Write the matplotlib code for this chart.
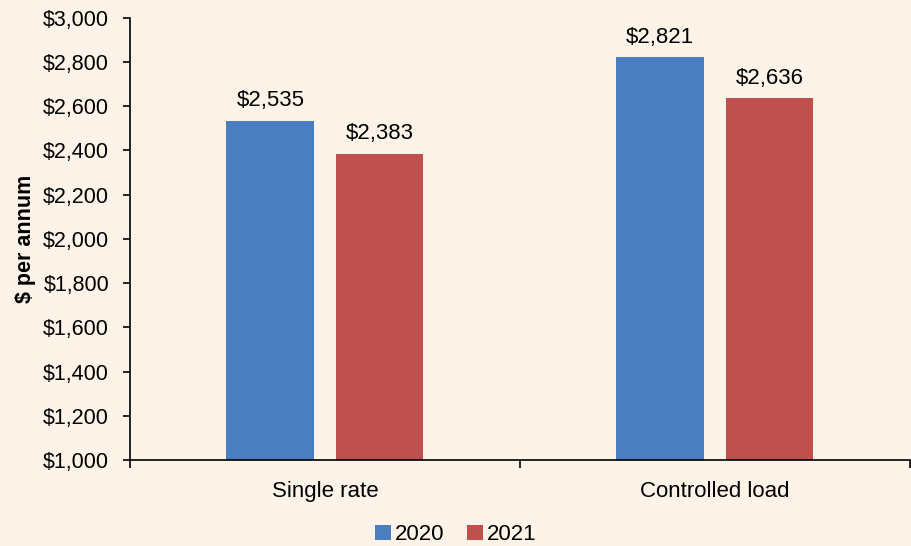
import matplotlib.pyplot as plt
import numpy as np

categories = ['Single rate', 'Controlled load']
years = ['2020', '2021']
values_2020 = [2535, 2821]
values_2021 = [2383, 2636]

BG = '#FDF3E8'
COLORS = ['#4A7EBF', '#C0504D']

plt.rcParams['font.family'] = ['Liberation Sans', 'DejaVu Sans']

fig = plt.figure(figsize=(9.12, 5.46), dpi=100, facecolor=BG)
ax = fig.add_axes([0.1425, 0.1575, 0.855, 0.81])
ax.set_facecolor(BG)

x = np.arange(len(categories))
width = 0.225
offset = 0.14
for i, (vals, year) in enumerate(zip([values_2020, values_2021], years)):
    pos = x + (offset if i else -offset)
    bars = ax.bar(pos, vals, width, color=COLORS[i], label=year, zorder=2)
    for b, v in zip(bars, vals):
        ax.annotate(f'${v:,}', (b.get_x() + b.get_width() / 2, v),
                    xytext=(0, 7), textcoords='offset points',
                    ha='center', va='bottom', fontsize=16)

ax.set_xlim(-0.5, 1.5)
ax.set_ylim(1000, 3000)
ax.set_yticks(range(1000, 3001, 200))
ax.yaxis.set_major_formatter(plt.FuncFormatter(lambda v, p: f'${int(v):,}'))
ax.set_xticks(x)
ax.set_xticklabels(categories)
ax.set_xticks([-0.5, 0.5, 1.5], minor=True)
ax.tick_params(axis='x', which='major', length=0, pad=15, labelsize=16)
ax.tick_params(axis='x', which='minor', length=6, width=1.2)
ax.tick_params(axis='y', length=5, width=1.2, labelsize=15.5, pad=10)

for s in ['top', 'right']:
    ax.spines[s].set_visible(False)
for s in ['left', 'bottom']:
    ax.spines[s].set_linewidth(1.2)

ax.set_ylabel('$ per annum', fontsize=15.5, fontweight='bold', labelpad=5)

fig.legend(loc='lower center', bbox_to_anchor=(0.5, -0.035), ncol=2, frameon=False,
           fontsize=16, handlelength=0.7, handleheight=0.7, handletextpad=0.2,
           columnspacing=1.0)

fig.savefig('out.png', dpi=100, facecolor=BG)
